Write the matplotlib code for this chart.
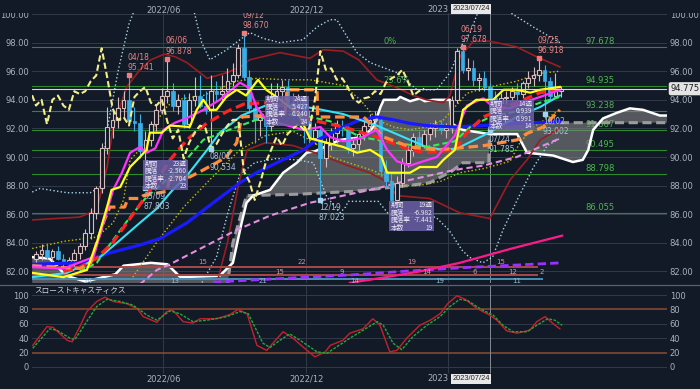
import numpy as np
import pandas as pd
import matplotlib
matplotlib.use("Agg")
from matplotlib import pyplot as plt
from matplotlib.patches import Rectangle
from matplotlib.lines import Line2D
from matplotlib.transforms import blended_transform_factory

BG = "#131a27"
GRID = "#323a4a"
TXT = "#aab2be"
JP = ["Noto Sans CJK JP", "DejaVu Sans"]
TAG_FONT = ["Liberation Sans", "DejaVu Sans"]

START = pd.Timestamp("2022-01-03")   # week 0
FIRST_WEEK = -2                      # first candle = 2021-12-20

# weekly candles
closes = [83.2, 83.5, 83.0, 83.4, 82.9, 82.6, 82.8, 83.3, 83.8, 84.7,
          86.1, 87.8, 90.6, 92.1, 92.6, 93.4, 94.0, 92.5, 92.4, 90.4,
          91.2, 92.3, 93.3, 94.3, 94.6, 93.6, 94.0, 92.3, 94.0, 94.3,
          93.6, 93.3, 94.6, 94.4, 94.6, 95.3, 95.7, 97.6, 95.6, 93.4,
          92.6, 92.8, 92.2, 94.2, 94.6, 94.9, 93.8, 93.6, 94.0, 92.5,
          91.3, 91.9, 89.9, 91.0, 91.7, 92.2, 92.0, 90.6, 90.9, 91.6,
          92.2, 92.6, 92.6, 89.0, 88.3, 87.0, 88.2, 89.6, 90.5, 91.4,
          90.8, 91.6, 92.0, 92.3, 91.9, 92.0, 94.0, 97.4, 96.1, 96.2,
          95.4, 95.5, 94.9, 94.1, 93.8, 94.1, 94.2, 94.6, 94.4, 95.2,
          95.5, 95.7, 96.1, 95.3, 94.3, 94.6, 94.775]
highs = [83.4, 83.9, 84.0, 83.6, 83.8, 83.2, 83.0, 83.6, 84.0, 85.0,
         86.4, 88.0, 91.0, 93.5, 93.2, 94.2, 94.6, 95.741, 93.5, 93.0,
         91.8, 92.5, 93.7, 94.8, 96.878, 95.2, 94.4, 94.4, 94.5, 95.6,
         95.7, 94.6, 95.7, 95.3, 95.7, 96.2, 96.6, 97.9, 98.670, 96.1,
         93.9, 93.3, 93.2, 95.2, 95.2, 95.4, 95.4, 94.5, 94.4, 94.2,
         93.3, 92.4, 92.0, 91.3, 92.0, 92.6, 92.6, 92.3, 91.4, 91.9,
         92.5, 93.0, 93.2, 92.8, 89.8, 88.9, 88.7, 89.9, 90.8, 91.7,
         91.8, 91.9, 92.4, 92.6, 92.6, 92.4, 94.3, 97.6, 97.678, 96.9,
         96.8, 95.9, 96.0, 95.2, 94.6, 94.5, 94.6, 94.9, 95.2, 95.3,
         96.0, 96.3, 96.918, 96.4, 95.6, 95.9, 95.0]
lows = [82.5, 82.8, 82.9, 82.6, 82.8, 82.3, 82.0, 82.4, 82.9, 83.5,
        84.3, 85.7, 87.5, 90.2, 91.3, 92.0, 92.8, 92.3, 91.8, 89.9,
        87.803, 90.8, 91.8, 93.0, 93.8, 93.2, 93.0, 92.0, 92.0, 93.6,
        93.4, 93.0, 90.534, 93.9, 94.0, 94.2, 95.0, 95.5, 95.4, 93.1,
        91.0, 91.5, 91.0, 91.8, 93.9, 93.8, 93.5, 93.2, 93.0, 91.0,
        91.0, 90.9, 87.023, 89.3, 90.5, 91.0, 91.5, 90.3, 90.1, 90.5,
        91.2, 91.8, 92.0, 88.7, 87.9, 86.8, 86.9, 87.9, 89.3, 90.1,
        90.5, 90.6, 91.2, 91.4, 91.6, 91.3, 91.7, 93.8, 95.9, 95.4,
        95.0, 94.6, 94.6, 91.785, 93.4, 93.5, 93.7, 93.9, 94.0, 94.1,
        94.8, 95.0, 95.3, 93.002, 94.0, 94.1, 94.2]
opens = [82.9] + closes[:-1]
LAG = 25

# moving averages / ichimoku lines (week, price)
tenkan_w = [-2.7, 3.0, 7.3, 9.1, 11.2, 11.8, 13.4, 15.2, 17, 18.2, 18.8, 21, 22.5, 26.1, 27.4,
            28.6, 29.8, 31, 32.8, 34.7, 36.4, 38.6, 40.1, 42, 46, 48.1, 51.2, 54.2, 56.7, 59.1,
            61.2, 62.2, 66.4, 68.2, 71.3, 72.5, 74.6, 76.1, 78.5, 81.6, 83.5, 85.9, 88.4, 90.2, 93.8]
tenkan_v = [81.9, 81.6, 82.1, 84.0, 86.8, 87.7, 87.9, 89.3, 90.0, 90.5, 91.7, 91.7, 92.2, 92.1, 93.3,
            94.0, 93.3, 93.3, 94.2, 94.7, 94.3, 95.4, 94.7, 94.2, 93.0, 91.3, 91.0, 90.7, 90.3, 90.5,
            90.0, 88.9, 88.9, 89.3, 89.3, 89.8, 90.5, 93.3, 94.0, 94.0, 94.7, 94.7, 94.5, 94.7, 94.9]
kijun_w = [-2.7, 6, 8, 9.1, 10.5, 11.5, 14.2, 14.8, 17, 17.6, 21.9, 22.5, 26.1, 28.6, 31, 32.8, 34.7,
           35.6, 43.5, 43.9, 49.4, 49.5, 57.9, 61.6, 66.4, 71.3, 74.6, 80, 86, 87.8, 90.8, 92, 93.8]
kijun_v = [82.4, 82.2, 82.6, 84.0, 85.6, 86.5, 86.5, 87.1, 87.1, 87.3, 87.6, 88.6, 88.6, 89.1, 89.6, 90.0, 91.0,
           92.8, 93.0, 94.7, 94.7, 92.8, 92.8, 91.4, 90.7, 90.5, 90.6, 90.8, 91.2, 91.65, 92.1, 92.6, 93.3]
ma_mag_w = [-2.7, 3.0, 8.5, 10.1, 12.1, 13.7, 15.2, 17.0, 18.2, 19.8, 21.3, 23.4, 25.5, 28.6, 31.6, 35.3,
            37.1, 38.3, 40.1, 44, 47, 50, 51.8, 54.2, 57.3, 60.3, 62.2, 64, 66.4, 68.8, 71.3, 74.6, 76.8,
            79.8, 81.6, 84.7, 87.8, 90.2, 93.8]
ma_mag_v = [82.3, 82.2, 83.0, 85.1, 87.7, 88.9, 90.3, 90.7, 90.3, 90.6, 91.9, 92.4, 92.7, 93.3, 94.0, 95.2,
            94.8, 93.5, 92.6, 92.2, 91.9, 92.1, 91.4, 91.1, 91.3, 91.9, 90.5, 89.7, 89.4, 89.7, 90.0, 91.5, 93.6,
            94.1, 93.5, 93.4, 93.9, 94.2, 94.7]
ma_red_w = [3, 6, 9, 12, 15, 17.6, 20, 22.5, 25.6, 29, 33, 36, 40, 44, 48.1, 54.2, 60.3, 66.4, 69.4, 74.6,
            76.8, 79.8, 82.9, 85.9, 90.2, 93.8]
ma_red_v = [82.0, 82.3, 82.9, 84.0, 85.6, 87.0, 88.3, 89.8, 91.2, 92.3, 93.2, 93.7, 93.8, 93.6, 92.6, 92.1,
            91.4, 90.5, 90.3, 90.5, 91.7, 92.8, 93.3, 93.8, 94.5, 94.7]
ma_green_w = [6, 9.1, 12.1, 15.2, 18.2, 21.3, 23.4, 28.6, 34.7, 38.3, 40.1, 44, 48.1, 51.8, 57.3, 63.4,
              69.4, 74.6, 77.4, 81, 85.9, 90.2, 93.8]
ma_green_v = [82.0, 82.6, 84.2, 85.8, 87.2, 88.2, 88.9, 91.2, 92.1, 92.6, 92.8, 93.0, 92.8, 92.5, 91.4, 91.0,
              90.7, 91.1, 92.1, 92.8, 93.2, 93.8, 94.2]
ma_cyan_w = [-2.7, 3.7, 9.7, 13.4, 17, 20.1, 23, 25.6, 29.3, 31.6, 35.6, 40, 45, 49, 54.2, 60.3, 66.4,
             69.4, 72.5, 75, 79.8, 85.9, 90.2, 93.8]
ma_cyan_v = [81.6, 81.9, 83.0, 84.2, 85.4, 86.4, 87.7, 88.7, 90.5, 91.7, 92.9, 93.6, 93.6, 93.4, 93.0, 92.2,
             91.2, 90.7, 90.5, 90.6, 91.5, 92.8, 93.5, 94.3]
ma_blue_w = [-2.7, 6, 11.5, 17, 20.7, 25.6, 30.4, 35.3, 38.3, 42.6, 46.9, 49, 54.2, 57.3, 60.3, 63.4,
             66.4, 69.4, 74.6, 79.8, 85.9, 93.8]
ma_blue_v = [82.5, 82.6, 83.3, 83.85, 84.3, 85.4, 86.8, 88.2, 88.9, 89.7, 90.5, 91.1, 92.1, 92.6, 92.8,
             92.6, 92.35, 92.2, 92.1, 92.2, 92.35, 92.47]
ma_pink_w = [17, 20.1, 22.5, 28.6, 34.7, 40.8, 48.1, 54.2, 60.3, 66.4, 74.6, 79.8, 85.9, 93.8]
ma_pink_v = [81.1, 82.1, 82.5, 83.7, 84.9, 85.9, 86.8, 87.3, 87.8, 88.4, 89.1, 89.4, 90.0, 91.3]
ma_purple_w = [30.4, 45, 55.4, 65, 75.5, 94]
ma_purple_v = [81.25, 81.55, 81.75, 82.0, 82.25, 82.6]
ma_hot_w = [55.4, 62, 68.2, 75.5, 85, 94.2]
ma_hot_v = [81.2, 81.6, 82.0, 82.6, 83.6, 84.5]

# ichimoku cloud
spanA_w = [-2.7, 0.5, 3.5, 7, 12.5, 14, 19, 22, 24.4, 31.6, 34, 35.6, 36.5, 37.7, 40.8, 43.2, 45.7, 47.5,
           49, 53.6, 57.9, 59.7, 61.0, 61.6, 64, 64.6, 66.4, 68.2, 69.1, 70.6, 73.7, 74.2, 76, 81, 86,
           87.8, 92.6, 96.2, 98, 99, 99.9, 101.7, 104.3, 106.6, 109, 112.1, 113.4]
spanA_v = [83.0, 82.9, 81.7, 81.3, 81.8, 82.4, 82.6, 82.5, 81.6, 81.7, 82.6, 85.4, 86.8, 87.3, 87.7, 88.9,
           89.6, 90.3, 90.4, 91.2, 91.4, 92.1, 93.5, 94.0, 94.0, 94.2, 93.9, 94.1, 93.9, 94.0, 94.0, 92.3,
           91.9, 91.6, 91.6, 90.3, 90.1, 89.65, 89.8, 90.5, 91.9, 92.7, 93.1, 93.4, 93.3, 92.9, 92.9]
spanB_w = [-2.7, 33, 34, 35.5, 36.5, 46, 56, 66, 70, 74, 76, 80.8, 81, 113.4]
spanB_v = [81.0, 81.0, 84.0, 86.0, 87.3, 87.4, 87.6, 88.0, 88.2, 89.0, 89.6, 89.6, 92.4, 92.4]

# bollinger bands
bb_u3_w = [-2.7, -1.3, 3.7, 7.9, 9.7, 11, 13, 15, 16.5, 19, 24, 26.5, 28.3, 29.8, 32.9, 35.3, 37.1, 39.5,
           42.6, 46.8, 49.4, 51.8, 53, 54.9, 56.7, 59.1, 64, 67.7, 71.3, 73.7, 76.1, 77.4, 79.5, 82, 84.7,
           88.9, 92, 93.8]
bb_u3_v = [87.55, 87.8, 87.5, 87.5, 87.9, 91.9, 96.0, 99.3, 100.8, 102.5, 102.3, 100.8, 98.0, 96.8, 97.5,
           98.2, 98.7, 98.3, 98.0, 98.2, 99.1, 99.6, 99.6, 98.4, 97.3, 96.6, 95.9, 94.7, 94.7, 95.9, 98.0,
           98.7, 100.8, 101.5, 100.1, 99.1, 98.4, 98.0]
bb_l3_w = [28, 31, 33, 35.3, 38, 42, 45.7, 48.7, 51.2, 53.6, 54.6, 55.1, 60.6, 62.5, 64.9, 71.1, 73.5,
           75.9, 77.2, 79.7, 81.5, 83.4, 86, 89, 91.5, 93.8]
bb_l3_v = [81.0, 83.0, 86.0, 88.8, 89.6, 89.9, 89.8, 89.6, 87.2, 86.1, 86.5, 86.9, 86.9, 86.0, 85.8, 85.8,
           84.9, 83.5, 83.0, 82.6, 83.0, 84.9, 87.0, 89.3, 90.8, 91.3]
bb_u2_w = [-2.7, 6, 9.1, 11, 12.1, 14.6, 17, 19, 21.5, 23.5, 25.6, 29.3, 32.9, 35.3, 37.1, 42.6, 48.1,
           50.5, 54.2, 57, 60.3, 64.3, 67, 69.4, 72.5, 73.7, 75.5, 78, 81, 85.9, 89.6, 93.8]
bb_u2_v = [85.6, 85.8, 86.3, 89.3, 92.1, 94.9, 96.1, 96.8, 97.2, 97.0, 96.6, 95.5, 95.9, 96.3, 96.8, 97.3,
           96.9, 97.5, 97.4, 96.8, 95.4, 94.8, 94.3, 94.0, 93.8, 94.3, 97.0, 98.1, 98.1, 97.7, 97.0, 96.3]
bb_l2_w = [31.1, 33, 35, 36.6, 40, 45, 49, 55, 59, 62, 64, 70, 75.5, 81, 84.7, 87.8, 90.2, 93.8]
bb_l2_v = [81.2, 84.0, 88.0, 90.5, 91.0, 90.8, 90.3, 89.4, 88.9, 88.3, 87.3, 87.1, 86.1, 85.7, 88.4, 89.8,
           91.2, 92.0]
bb_u1_w = [-2.7, 3, 9.1, 12.1, 14, 15.2, 18.2, 21.3, 23.4, 28.6, 34.7, 38.3, 43.8, 48.1, 54.2, 57.3, 60.3,
           63.4, 66.4, 69.4, 72.5, 76.8, 79.8, 85.9, 90.2, 93.8]
bb_u1_v = [83.6, 84.1, 84.4, 85.4, 87.0, 89.8, 91.0, 93.3, 94.0, 94.3, 95.3, 95.5, 95.4, 95.4, 95.0, 94.0,
           92.6, 92.1, 91.9, 92.1, 92.6, 94.45, 94.8, 95.3, 95.85, 96.0]
bb_l1_w = [15.7, 20, 25, 30, 35.3, 40, 45, 49, 52, 56, 60, 64, 68, 72, 75.5, 80, 84.7, 86.5, 89, 93.8]
bb_l1_v = [81.6, 84.0, 86.5, 88.5, 90.5, 91.5, 91.8, 91.0, 90.0, 89.5, 89.0, 88.0, 88.0, 88.3, 88.9, 89.2,
           89.7, 91.0, 92.1, 93.3]

# fibonacci
fib_levels = [97.678, 94.935, 93.238, 91.867, 90.495, 88.798, 86.055]
fib_pct = ["0%", "23.6%"]

# swing high / low markers (week index)
swing_high_w = [15, 22, 36, 76, 90]
swing_low_w = [18, 30, 50, 81, 91]

# period boxes: label column and values
box_weeks = [(17.6, 87.7), (39.8, 92.2), (62.6, 84.8), (80.8, 91.9)]
box_period = ["23週", "24週", "19週", "14週"]
box_change = ["-2.560", "5.427", "-6.982", "0.939"]
box_pct = ["-2.704", "6.240", "-7.441", "0.991"]
box_count = ["23", "24", "19", "14"]
box_rows = ["期間", "騰落", "騰落率", "本数"]

# wave counting rows at bottom
count1_w = [28.5, 46.6, 66.8, 82.9]
count1_t = ["15", "22", "19", "15"]
count2_w = [42.6, 54, 69.5, 78.3, 85.2, 90.5]
count2_t = ["15", "9", "14", "6", "12", "2"]
count3_w = [7.5, 23.4, 39.5, 56.3, 71.9, 86]
count3_t = ["24", "13", "21", "14", "19", "11"]

# slow stochastics
stoch_k_w = [-2.6, 0, 1.1, 3.7, 4.6, 6.0, 7.3, 9.1, 10.6, 12.1, 14.6, 16.5, 17.6, 20.1, 21.9, 23.0, 24.9,
             26.7, 28.0, 31.1, 33.5, 34.9, 36.6, 38.4, 40.2, 41.3, 43.2, 45.0, 46.8, 49.0, 50.9, 51.8, 54.1,
             55.4, 57.8, 59.6, 60.9, 62.7, 64.0, 65.8, 68.2, 70.1, 71.9, 73.3, 75.0, 76.5, 78.7, 81.0, 82.3,
             84.1, 86.0, 88.3, 89.6, 91.1, 92.6, 93.8]
stoch_k_v = [30, 56, 55, 37, 35, 56, 77, 91, 97, 91, 88, 81, 70, 62, 77, 79, 63, 61, 67, 67, 73, 80, 74, 30,
             23, 33, 49, 40, 28, 14, 21, 30, 37, 47, 53, 67, 58, 21, 23, 40, 58, 65, 74, 88, 99, 94, 81, 72,
             65, 50, 47, 51, 63, 70, 60, 53]
stoch_d_w = [-2.6, 0.5, 1.8, 4.2, 5.1, 7.0, 9.1, 11.0, 13.4, 15.7, 18.3, 20.1, 22.5, 24.3, 26.7, 29.3, 32.9,
             35.3, 36.8, 39.5, 40.8, 42.6, 44.4, 46.3, 49.4, 51.2, 53.0, 55.4, 57.8, 60.4, 61.5, 63.3, 64.9,
             66.9, 69.5, 71.9, 73.7, 75.5, 77.0, 79.2, 81.6, 83.4, 85.2, 87.8, 89.6, 91.6, 92.9, 94.2]
stoch_d_v = [26, 53, 51, 40, 38, 60, 84, 94, 91, 86, 72, 65, 78, 74, 63, 65, 70, 77, 74, 33, 27, 37, 46, 37,
             21, 19, 28, 40, 51, 63, 58, 33, 24, 42, 58, 70, 84, 94, 92, 81, 72, 58, 49, 49, 58, 67, 65, 58]

month_ticks = ["2022-06-01", "2022-12-01", "2023-06-01"]
month_labels = ["2022/06", "2022/12", "2023"]   # last one is mostly hidden by the crosshair tag
cross_date = "2023-07-24"

# ---------------------------------------------------------------
weeks = np.arange(FIRST_WEEK, FIRST_WEEK + len(closes))
opens_a, closes_a = np.array(opens), np.array(closes)
highs_a, lows_a = np.array(highs), np.array(lows)
tick_w = [(pd.Timestamp(d) - START).days / 7 for d in month_ticks]
cross_w = (pd.Timestamp(cross_date) - START).days / 7

fig = plt.figure(figsize=(7, 3.89), dpi=100, facecolor=BG)
ax = fig.add_axes([32 / 700, 106 / 389, 635 / 700, 270 / 389])
ax2 = fig.add_axes([32 / 700, 0, 635 / 700, 104 / 389])
for a in (ax, ax2):
    a.set_facecolor(BG)
    for s in a.spines.values():
        s.set_visible(False)
    a.set_xticks([])
    a.set_xlim(-2.74, 113.4)
    a.tick_params(axis="y", length=0, labelsize=6, labelcolor=TXT,
                  labelleft=True, labelright=True, pad=2)

ax.set_ylim(81.19, 100.07)
yt = np.arange(82, 101, 2)
ax.set_yticks(yt)
ax.set_yticklabels([f"{v:.2f}" for v in yt])
for v in yt:
    ax.axhline(v, color=GRID, lw=0.7, zorder=0)
for w in tick_w:
    ax.axvline(w, color=GRID, lw=0.7, zorder=0)
ax.axvline(cross_w, color="#858b96", lw=0.7, zorder=0.5)

# fibonacci lines
for i, lv in enumerate(fib_levels):
    ax.axhline(lv, color="#2c8a2c", lw=0.8, zorder=1.2)
    ax.text(98.5, lv + 0.08, f"{lv:.3f}", color="#4cb84c", fontsize=6, va="bottom", zorder=1.3)
for i, p in enumerate(fib_pct):
    ax.text(61.5, fib_levels[i] + 0.08, p, color="#4cb84c", fontsize=6, va="bottom", zorder=1.3)

# cloud
ax.fill(spanA_w + spanB_w[::-1], spanA_v + spanB_v[::-1], color="#8c8c8c", alpha=0.55, lw=0, zorder=1.5)
ax.plot(spanB_w, spanB_v, color="#9c9c9c", lw=2.2, dashes=(3, 1.5), zorder=2)
ax.plot(spanA_w, spanA_v, color="white", lw=1.8, zorder=2.1)

# bands
ax.plot(bb_u3_w, bb_u3_v, color="#a9d6e6", lw=1.0, ls=":", zorder=2.2)
ax.plot(bb_l3_w, bb_l3_v, color="#a9d6e6", lw=1.0, ls=":", zorder=2.2)
ax.plot(bb_u2_w, bb_u2_v, color="#9a1d22", lw=1.2, zorder=2.2)
ax.plot(bb_l2_w, bb_l2_v, color="#9a1d22", lw=1.2, zorder=2.2)
ax.plot(bb_u1_w, bb_u1_v, color="#c8c000", lw=1.0, ls=":", zorder=2.2)
ax.plot(bb_l1_w, bb_l1_v, color="#c8c000", lw=1.0, ls=":", zorder=2.2)

# counting rows
ax.hlines([82.31, 81.75], -2.74, 89.8, color="#a84848", lw=1.4, zorder=2.3)
ax.hlines(81.45, -2.74, 90.7, color="#4a8fb5", lw=1.4, zorder=2.3)
for w, t in zip(count1_w, count1_t):
    ax.text(w, 82.42, t, color="#d88a8a", fontsize=5, ha="center", va="bottom", zorder=6)
for w, t in zip(count2_w, count2_t):
    ax.text(w, 81.98, t, color="#c9a0a0", fontsize=5, ha="center", va="center", zorder=6)
for w, t in zip(count3_w, count3_t):
    ax.text(w, 81.33, t, color="#8fbcd6", fontsize=5, ha="center", va="center", zorder=6)

# long moving averages
ax.plot(ma_purple_w, ma_purple_v, color="#9b30ff", lw=2.0, dashes=(3, 1.5), zorder=3)
ax.plot(ma_hot_w, ma_hot_v, color="#ff1a8c", lw=1.6, zorder=3)
ax.plot(ma_pink_w, ma_pink_v, color="#e58ee0", lw=1.5, dashes=(3, 1.8), zorder=3)

# candles
up = closes_a >= opens_a
col = np.where(up, "#d6bcbc", "#3aaee6")
ax.vlines(weeks, lows_a, highs_a, colors=col, lw=0.8, zorder=3.2)
body = np.maximum(np.abs(closes_a - opens_a), 0.06)
bottom = np.minimum(opens_a, closes_a)
ax.bar(weeks[up], body[up], bottom=bottom[up], width=0.68, facecolor=BG,
       edgecolor="#d6bcbc", lw=0.8, zorder=3.4)
ax.bar(weeks[~up], body[~up], bottom=bottom[~up], width=0.68, facecolor="#3aaee6",
       edgecolor="#3aaee6", lw=0.5, zorder=3.4)

# short lines
ax.plot(ma_blue_w, ma_blue_v, color="#1a1aff", lw=2.3, zorder=4)
ax.plot(ma_cyan_w, ma_cyan_v, color="#35e3f5", lw=1.5, zorder=4.1)
ax.plot(ma_green_w, ma_green_v, color="#33ee55", lw=1.5, dashes=(3, 1.5), zorder=4.2)
ax.plot(ma_red_w, ma_red_v, color="#ff2222", lw=2.3, dashes=(3, 1.5), zorder=4.3)
ax.plot(kijun_w, kijun_v, color="#ff8c3a", lw=2.3, dashes=(3, 1.5), zorder=4.4)
ax.plot(ma_mag_w, ma_mag_v, color="#ff33ff", lw=1.6, zorder=4.5)
ax.plot(tenkan_w, tenkan_v, color="#ffff1a", lw=1.6, zorder=4.6)
ax.plot(weeks - LAG, closes_a, color="#f3ee8a", lw=1.5, dashes=(3, 1.5), zorder=4.7)

# current price
ax.axhline(closes[-1], color="#d4d4d4", lw=0.8, zorder=4.8)
ax.text(114.1, closes[-1], f"{closes[-1]:.3f}", color="#1c1c1c", fontsize=6, va="center",
        ha="left", clip_on=False, zorder=9,
        bbox=dict(boxstyle="round,pad=0.25", fc="#e4e4e4", ec="none"))

# swing markers
for w in swing_high_w:
    i = w - FIRST_WEEK
    d = (START + pd.Timedelta(weeks=w)).strftime("%m/%d")
    ax.plot(w, highs[i], "s", ms=2.6, color="#f07d7d", zorder=6)
    ax.text(w - 0.3, highs[i] + 0.22, f"{d}\n{highs[i]:.3f}", color="#e98686", fontsize=5.5,
            ha="left", va="bottom", linespacing=1.25, zorder=6)
for w in swing_low_w:
    i = w - FIRST_WEEK
    d = (START + pd.Timedelta(weeks=w)).strftime("%m/%d")
    ax.plot(w, lows[i], "s", ms=2.6, color="#9fd6ee", zorder=6)
    ax.text(w - 0.3, lows[i] - 0.18, f"{d}\n{lows[i]:.3f}", color="#a8c2d6", fontsize=5.5,
            ha="left", va="top", linespacing=1.25, zorder=6)

# period boxes
bw, bh = 8.2, 2.1
for k, (x0, y0) in enumerate(box_weeks):
    ax.add_patch(Rectangle((x0, y0), bw, bh, facecolor="#6c60a8", alpha=0.85, lw=0, zorder=7))
    vals = [box_period[k], box_change[k], box_pct[k], box_count[k]]
    for r in range(4):
        yy = y0 + bh - (r + 0.5) * bh / 4
        ax.text(x0 + 0.25, yy, box_rows[r], color="#e8e6f4", fontsize=4.8, family=JP,
                va="center", ha="left", zorder=8)
        ax.text(x0 + bw - 0.25, yy, vals[r], color="#e8e6f4", fontsize=4.8, family=JP,
                va="center", ha="right", zorder=8)

# top strip (cuts the 100.00 label, holds the dates)
fig.patches.append(Rectangle((0, 376 / 389), 1, 13 / 389, transform=fig.transFigure,
                             facecolor=BG, edgecolor="none", zorder=1))
trans = blended_transform_factory(ax.transData, fig.transFigure)
tag_left = cross_w - 7.4
for w, lab in zip(tick_w, month_labels):
    if lab == "2023":
        fig.text(tag_left - 0.2, 1 - 10 / 389, lab, transform=trans, fontsize=6, color=TXT,
                 ha="right", va="center", zorder=3)
    else:
        fig.text(w, 1 - 10 / 389, lab, transform=trans, fontsize=6, color=TXT,
                 ha="center", va="center", zorder=3)
fig.text(cross_w, 1 - 9 / 389, cross_date.replace("-", "/"), transform=trans, fontsize=5.4,
         family=TAG_FONT, color="#222", ha="right", va="center", zorder=4,
         bbox=dict(boxstyle="square,pad=0.2", fc="#e8e8e8", ec="none"))

# separator
fig.add_artist(Line2D([0, 1], [104.5 / 389, 104.5 / 389], transform=fig.transFigure,
                      color="#5a6172", lw=0.9))

# lower panel: slow stochastics
ax2.set_ylim(-30.6, 113.9)
st = [0, 20, 40, 60, 80, 100]
ax2.set_yticks(st)
ax2.set_yticklabels([str(v) for v in st])
for v in st:
    if v in (20, 80):
        ax2.axhline(v, color="#8b4c30", lw=1.1, zorder=0.5)
    else:
        ax2.axhline(v, color=GRID, lw=0.7, zorder=0.5)
for w in tick_w:
    ax2.vlines(w, -8.3, 113.9, color=GRID, lw=0.7, zorder=0.4)
ax2.vlines(cross_w, -8.3, 113.9, color="#858b96", lw=0.7, zorder=0.6)
ax2.plot(stoch_k_w, stoch_k_v, color="#c8202a", lw=1.0, zorder=2)
ax2.plot(stoch_d_w, stoch_d_v, color="#22a83a", lw=1.0, dashes=(2, 1), zorder=3)
ax2.text(-2.4, 106, "スローストキャスティクス", fontsize=5.5, color="#d0d4dc", family=JP,
         va="center", ha="left")
for w, lab in zip(tick_w, month_labels):
    if lab == "2023":
        ax2.text(tag_left - 0.2, -16.7, lab, fontsize=6, color=TXT, ha="right", va="center", zorder=3)
    else:
        ax2.text(w, -16.7, lab, fontsize=6, color=TXT, ha="center", va="center", zorder=3)
ax2.text(cross_w, -16.7, cross_date.replace("-", "/"), fontsize=5.4, family=TAG_FONT, color="#222",
         ha="right", va="center", zorder=4,
         bbox=dict(boxstyle="square,pad=0.2", fc="#e8e8e8", ec="none"))

fig.savefig("out.png", dpi=100, facecolor=BG)
